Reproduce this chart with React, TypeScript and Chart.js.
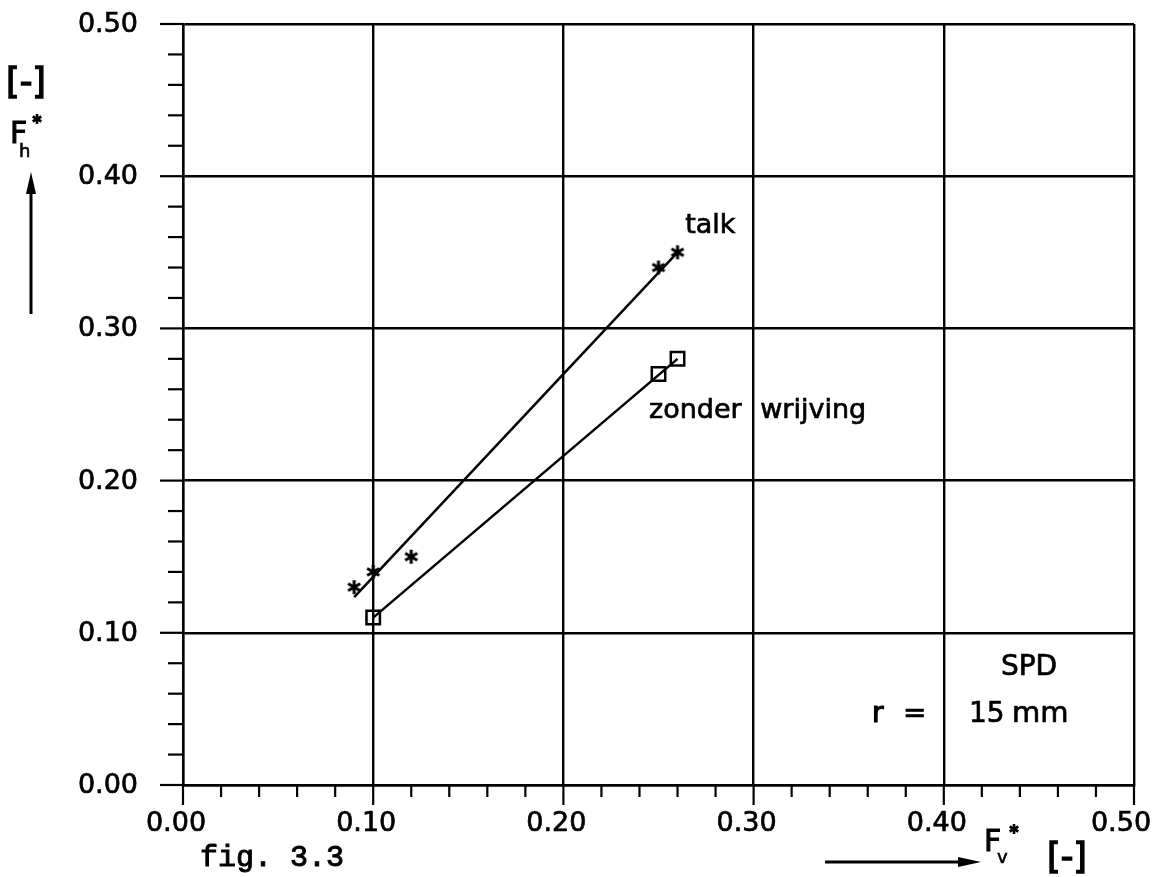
import React, { useEffect, useRef } from "react";
import { Chart, registerables } from "chart.js";

Chart.register(...registerables);

// ---- data ----
const talkX = [0.09, 0.1, 0.12, 0.25, 0.26];
const talkY = [0.13, 0.14, 0.15, 0.34, 0.35];
const zonderX = [0.1, 0.25, 0.26];
const zonderY = [0.11, 0.27, 0.28];
const talkFitX = [0.09, 0.26];
const talkFitY = [0.1235, 0.35];
const zonderFitX = [0.1, 0.26];
const zonderFitY = [0.11, 0.28];
const xTickValues = [0, 0.1, 0.2, 0.3, 0.4, 0.5];
const xTickLabels = ["0.00", "0.10", "0.20", "0.30", "0.40", "0.50"];
const yTickValues = [0, 0.1, 0.2, 0.3, 0.4, 0.5];
const yTickLabels = ["0.00", "0.10", "0.20", "0.30", "0.40", "0.50"];

const FONT = '"DejaVu Sans", sans-serif';

function makeStar(size: number, lw: number): HTMLCanvasElement {
  const c = document.createElement("canvas");
  c.width = size;
  c.height = size;
  const g = c.getContext("2d")!;
  g.strokeStyle = "#000";
  g.lineWidth = lw;
  const cx = size / 2, cy = size / 2, r = size / 2 - 1;
  for (let k = 0; k < 3; k++) {
    const a = (Math.PI / 3) * k + Math.PI / 2;
    g.beginPath();
    g.moveTo(cx + r * Math.cos(a), cy + r * Math.sin(a));
    g.lineTo(cx - r * Math.cos(a), cy - r * Math.sin(a));
    g.stroke();
  }
  g.beginPath();
  g.arc(cx, cy, lw * 0.9, 0, Math.PI * 2);
  g.fillStyle = "#000";
  g.fill();
  return c;
}

function text(ctx: CanvasRenderingContext2D, s: string, x: number, y: number, w = 0.7) {
  ctx.fillText(s, x, y);
  if (w > 0) {
    ctx.lineWidth = w;
    ctx.strokeText(s, x, y);
  }
}

const decorPlugin = {
  id: "decor",
  afterDraw(chart: any) {
    const ctx = chart.ctx as CanvasRenderingContext2D;
    const xs = chart.scales.x;
    const ys = chart.scales.y;
    const x0 = xs.getPixelForValue(0);
    const y0 = ys.getPixelForValue(0);
    const smallStar = makeStar(12, 2.6);
    ctx.save();
    ctx.strokeStyle = "#000";
    ctx.fillStyle = "#000";
    ctx.lineWidth = 2.2;
    // ticks
    for (let i = 0; i <= 25; i++) {
      const v = i * 0.02;
      const major = i % 5 === 0;
      const px = xs.getPixelForValue(v);
      ctx.lineWidth = 2.2;
      ctx.beginPath();
      ctx.moveTo(px, y0);
      ctx.lineTo(px, y0 + (major ? 20 : 12));
      ctx.stroke();
      const py = ys.getPixelForValue(v);
      ctx.beginPath();
      ctx.moveTo(x0, py);
      ctx.lineTo(x0 - (major ? 23 : 15), py);
      ctx.stroke();
    }
    // tick labels
    ctx.font = `27px ${FONT}`;
    ctx.textBaseline = "middle";
    ctx.textAlign = "right";
    yTickValues.forEach((v, i) => {
      text(ctx, yTickLabels[i], x0 - 45, ys.getPixelForValue(v) + 1);
    });
    ctx.textAlign = "center";
    xTickValues.forEach((v, i) => {
      const off = i === xTickValues.length - 1 ? -13 : -7;
      text(ctx, xTickLabels[i], xs.getPixelForValue(v) + off, y0 + 39);
    });

    // annotations
    ctx.textBaseline = "alphabetic";
    ctx.textAlign = "left";
    ctx.font = `27px ${FONT}`;
    text(ctx, "talk", xs.getPixelForValue(0.264), ys.getPixelForValue(0.3627));
    text(ctx, "zonder", xs.getPixelForValue(0.245), ys.getPixelForValue(0.241));
    text(ctx, "wrijving", xs.getPixelForValue(0.3035), ys.getPixelForValue(0.241));
    ctx.font = `28px ${FONT}`;
    ctx.textAlign = "center";
    text(ctx, "SPD", xs.getPixelForValue(0.4448), ys.getPixelForValue(0.0723));
    ctx.textAlign = "left";
    text(ctx, "r", xs.getPixelForValue(0.3623), ys.getPixelForValue(0.0414), 1.2);
    text(ctx, "=", xs.getPixelForValue(0.3785), ys.getPixelForValue(0.0414));
    text(ctx, "15", xs.getPixelForValue(0.4132), ys.getPixelForValue(0.0414));
    ctx.font = `29px ${FONT}`;
    text(ctx, "mm", xs.getPixelForValue(0.4358), ys.getPixelForValue(0.0414));

    // fig label
    ctx.font = `30px "Liberation Mono", monospace`;
    text(ctx, "fig. 3.3", 200, 866, 1);

    // y-axis title
    ctx.font = `35px ${FONT}`;
    text(ctx, "[-]", 6, 93, 1.4);
    ctx.font = `30px ${FONT}`;
    text(ctx, "F", 10, 143, 1);
    ctx.font = `18px ${FONT}`;
    text(ctx, "h", 19, 157, 0.6);
    ctx.drawImage(smallStar, 31, 113);
    // y arrow
    ctx.lineWidth = 3;
    ctx.beginPath();
    ctx.moveTo(31, 314);
    ctx.lineTo(31, 190);
    ctx.stroke();
    ctx.beginPath();
    ctx.moveTo(31, 172);
    ctx.lineTo(26, 194);
    ctx.lineTo(36, 194);
    ctx.closePath();
    ctx.fill();

    // x-axis title
    ctx.font = `30px ${FONT}`;
    text(ctx, "F", 984, 851, 1);
    ctx.font = `18px ${FONT}`;
    text(ctx, "v", 997, 863, 0.6);
    ctx.drawImage(smallStar, 1008, 823);
    ctx.font = `35px ${FONT}`;
    text(ctx, "[-]", 1047, 868, 1.4);
    // x arrow
    ctx.lineWidth = 3;
    ctx.beginPath();
    ctx.moveTo(825, 862);
    ctx.lineTo(962, 862);
    ctx.stroke();
    ctx.beginPath();
    ctx.moveTo(981, 862);
    ctx.lineTo(958, 857);
    ctx.lineTo(958, 867);
    ctx.closePath();
    ctx.fill();
    ctx.restore();
  },
};

export default function App() {
  const ref = useRef<HTMLCanvasElement | null>(null);
  useEffect(() => {
    if (!ref.current) return;
    const star = makeStar(16, 3);
    const pts = (xs: number[], ys: number[]) => xs.map((x, i) => ({ x, y: ys[i] }));
    const chart = new Chart(ref.current, {
      type: "scatter",
      data: {
        datasets: [
          {
            data: pts(talkFitX, talkFitY),
            showLine: true,
            borderColor: "#000",
            borderWidth: 2.5,
            pointRadius: 0,
          },
          {
            data: pts(zonderFitX, zonderFitY),
            showLine: true,
            borderColor: "#000",
            borderWidth: 2.5,
            pointRadius: 0,
          },
          {
            data: pts(talkX, talkY),
            showLine: false,
            pointStyle: star as any,
            pointRadius: 8,
          },
          {
            data: pts(zonderX, zonderY),
            showLine: false,
            pointStyle: "rect",
            pointRadius: 9.5,
            borderColor: "#000",
            borderWidth: 2.5,
            backgroundColor: "rgba(0,0,0,0)",
          },
        ],
      },
      options: {
        animation: false,
        responsive: false,
        events: [],
        layout: { padding: { left: 183, right: 33, top: 24, bottom: 92 } },
        plugins: { legend: { display: false }, tooltip: { enabled: false } },
        scales: {
          x: {
            type: "linear",
            min: 0,
            max: 0.5,
            ticks: { display: false, stepSize: 0.1 },
            grid: { color: "#000", lineWidth: 2.4, drawTicks: false },
            border: { display: true, color: "#000", width: 2.4 },
            afterFit: (s: any) => {
              s.height = 0;
            },
          },
          y: {
            type: "linear",
            min: 0,
            max: 0.5,
            ticks: { display: false, stepSize: 0.1 },
            grid: { color: "#000", lineWidth: 2.4, drawTicks: false },
            border: { display: true, color: "#000", width: 2.4 },
            afterFit: (s: any) => {
              s.width = 0;
            },
          },
        },
      },
      plugins: [decorPlugin],
    });
    return () => chart.destroy();
  }, []);
  return (
    <div
      style={{
        position: "fixed",
        left: 0,
        top: 0,
        width: 1167,
        height: 877,
        background: "#fff",
      }}
    >
      <canvas ref={ref} width={1167} height={877} style={{ display: "block" }} />
    </div>
  );
}
